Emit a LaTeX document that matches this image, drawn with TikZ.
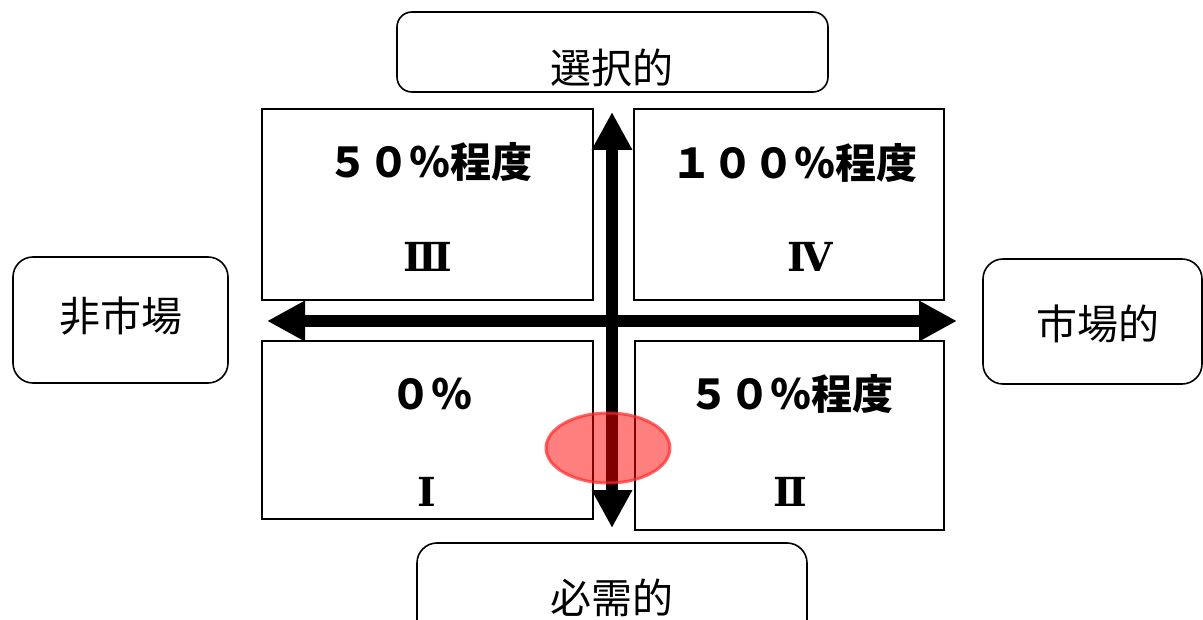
\documentclass[tikz,border=0pt]{standalone}
\usepackage{fontspec}
\usetikzlibrary{arrows.meta}
\newfontfamily\jpfont{Noto Sans CJK JP}
\newfontfamily\numfont{DejaVu Serif}

\begin{document}
\begin{tikzpicture}[x=1pt,y=1pt,yscale=-1,xscale=1,
  quadbox/.style={draw, line width=1.8pt, inner sep=0pt},
  sidebox/.style={draw, line width=1.6pt, rounded corners=20pt, inner sep=0pt},
  sidetxt/.style={inner sep=0pt, font=\jpfont\fontsize{41}{41}\selectfont},
  quadtxt/.style={inner sep=0pt, font=\jpfont\bfseries\fontsize{41}{41}\selectfont},
  numtxt/.style={inner sep=0pt, font=\numfont\bfseries\fontsize{40}{40}\selectfont},
  axisarrow/.style={line width=12pt, {Triangle[length=38pt,width=38pt]}-{Triangle[length=38pt,width=38pt]}}
]
\useasboundingbox (0,0) rectangle (1203,620);

%Shape: Rectangle [quadrant III]
\node [quadbox, minimum width=331pt, minimum height=191pt] (q3) at (427.5,204.5) {};
%Shape: Rectangle [quadrant IV]
\node [quadbox, minimum width=310pt, minimum height=191pt] (q4) at (789,204.5) {};
%Shape: Rectangle [quadrant I]
\node [quadbox, minimum width=331pt, minimum height=178pt] (q1) at (427.5,430) {};
%Shape: Rectangle [quadrant II]
\node [quadbox, minimum width=309pt, minimum height=189pt] (q2) at (789.5,435.5) {};

%Rounded Rect [top]
\node [sidebox, rounded corners=15pt, minimum width=431pt, minimum height=80pt] (topbox) at (612.5,52) {};
%Rounded Rect [left]
\node [sidebox, minimum width=215pt, minimum height=126pt] (leftbox) at (120.5,320) {};
%Rounded Rect [right]
\node [sidebox, minimum width=219pt, minimum height=125pt] (rightbox) at (1092.5,321.5) {};
%Rounded Rect [bottom]
\node [sidebox, minimum width=390pt, minimum height=125pt] (botbox) at (612,605.5) {};

% Text Node
\node [sidetxt] (select) at (612,68) {選択的};
% Text Node
\node [sidetxt] (nonmarket) at (121,316) {非市場};
% Text Node
\node [sidetxt] (market) at (1098,324) {市場的};
% Text Node
\node [sidetxt] (need) at (612,598) {必需的};

% Text Node
\node [quadtxt] (p3) at (430,162) {５０％程度};
\node [numtxt] (n3) at (428,257) {Ⅲ};
% Text Node
\node [quadtxt] (p4) at (794,163) {１００％程度};
\node [numtxt] (n4) at (810,257) {Ⅳ};
% Text Node
\node [quadtxt] (p1) at (431,394) {０％};
\node [numtxt] (n1) at (427,492) {Ⅰ};
% Text Node
\node [quadtxt] (p2) at (791,394) {５０％程度};
\node [numtxt] (n2) at (790,492) {Ⅱ};

%Straight Lines [axes]
\coordinate (west) at (267,321);
\coordinate (east) at (957,321);
\coordinate (north) at (612,112);
\coordinate (south) at (612,528);
\draw [axisarrow] (west) -- (east) ;
\draw [axisarrow] (north) -- (south) ;

%Shape: Ellipse
\draw [color={rgb, 255:red, 255; green, 40; blue, 40 }, draw opacity=0.7, line width=3pt, fill={rgb, 255:red, 255; green, 0; blue, 0 }, fill opacity=0.5] (608,448) ellipse [x radius=62, y radius=35] ;

\end{tikzpicture}
\end{document}
